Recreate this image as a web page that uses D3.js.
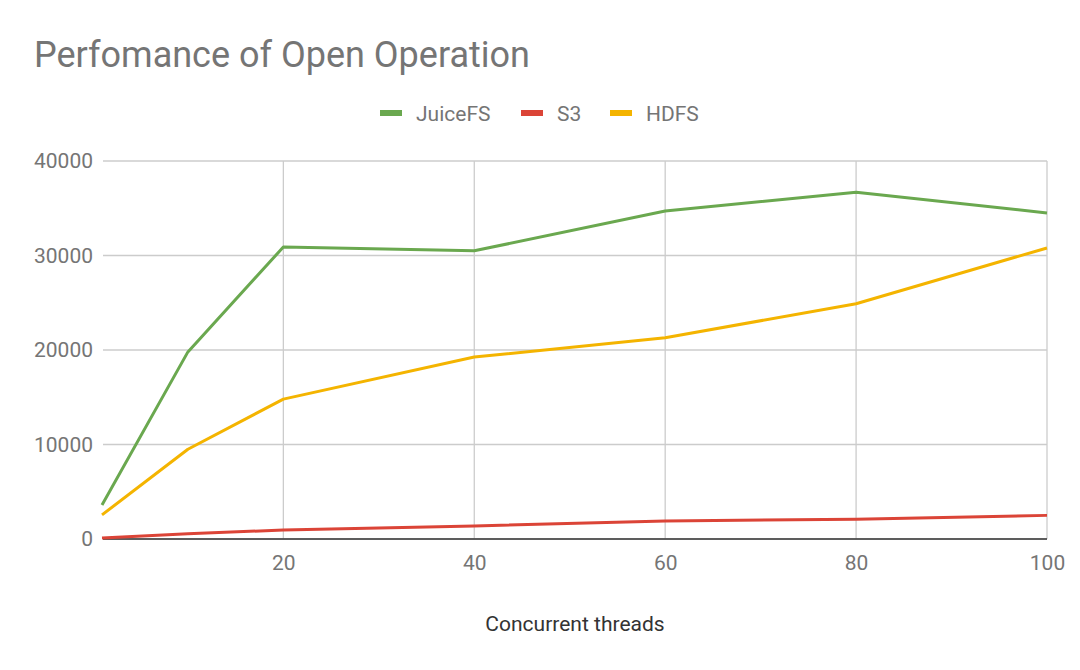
<!DOCTYPE html>
<meta charset="utf-8">
<script src="https://d3js.org/d3.v7.min.js"></script>
<style>
  body { margin: 0; background: #fff; }
  text { font-family: Roboto, "Noto Sans", sans-serif; }
</style>
<div id="chart"></div>
<script>

// data
var threads = [1, 10, 20, 40, 60, 80, 100];
var juicefs = [3600, 19800, 30900, 30500, 34700, 36700, 34500];
var s3      = [100, 550, 950, 1380, 1900, 2100, 2500];
var hdfs    = [2550, 9500, 14800, 19250, 21300, 24900, 30800];
var xTicks = [20, 40, 60, 80, 100];
var yTicks = [0, 10000, 20000, 30000, 40000];

var series = [
  {name: "JuiceFS", values: juicefs, color: "#6aa84f"},
  {name: "S3", values: s3, color: "#db4437"},
  {name: "HDFS", values: hdfs, color: "#f4b400"}
];

var W = 1080, H = 670;
var svg = d3.select("#chart").append("svg")
  .attr("width", W).attr("height", H);

var x = d3.scaleLinear().domain([1, 100]).range([102, 1047]);
var y = d3.scaleLinear().domain([0, 40000]).range([539, 161]);

// title
svg.append("text")
  .attr("x", 34).attr("y", 67)
  .attr("font-size", 36)
  .attr("fill", "#757575")
  .text("Perfomance of Open Operation");

// horizontal grid
svg.append("g")
  .selectAll("line")
  .data(yTicks)
  .enter().append("line")
    .attr("x1", 103).attr("x2", 1047)
    .attr("y1", function(d) { return y(d); })
    .attr("y2", function(d) { return y(d); })
    .attr("stroke", "#cccccc").attr("stroke-width", 1.3);

// vertical grid
svg.append("g")
  .selectAll("line")
  .data(xTicks)
  .enter().append("line")
    .attr("x1", function(d) { return x(d); })
    .attr("x2", function(d) { return x(d); })
    .attr("y1", 161).attr("y2", 539)
    .attr("stroke", "#cccccc").attr("stroke-width", 1.3);

// y axis labels
svg.append("g")
  .attr("transform", "translate(93,0)")
  .call(d3.axisLeft(y).tickValues(yTicks).tickSize(0).tickPadding(0).tickFormat(d3.format("d")))
  .call(function(g) { g.select(".domain").remove(); })
  .selectAll("text")
    .attr("font-size", 21)
    .attr("fill", "#757575")
    .attr("font-family", "Roboto, sans-serif");

// x axis labels
svg.append("g")
  .attr("transform", "translate(0,555)")
  .call(d3.axisBottom(x).tickValues(xTicks).tickSize(0).tickPadding(0))
  .call(function(g) { g.select(".domain").remove(); })
  .selectAll("text")
    .attr("font-size", 21)
    .attr("fill", "#757575")
    .attr("font-family", "Roboto, sans-serif");

// baseline
svg.append("line")
  .attr("x1", 103).attr("x2", 1047)
  .attr("y1", y(0)).attr("y2", y(0))
  .attr("stroke", "#333").attr("stroke-width", 1.3);

// lines
var line = d3.line()
  .x(function(d, i) { return x(threads[i]); })
  .y(function(d) { return y(d); });

svg.append("g")
  .selectAll("path")
  .data(series)
  .enter().append("path")
    .attr("d", function(s) { return line(s.values); })
    .attr("fill", "none")
    .attr("stroke", function(s) { return s.color; })
    .attr("stroke-width", 3)
    .attr("stroke-linejoin", "round");

// legend
var legendX = [380, 521, 610];
var lg = svg.append("g")
  .selectAll("g")
  .data(series)
  .enter().append("g")
    .attr("transform", function(d, i) { return "translate(" + legendX[i] + ",113)"; });
lg.append("rect")
  .attr("x", 0).attr("y", -3).attr("width", 22).attr("height", 6)
  .attr("fill", function(d) { return d.color; });
lg.append("text")
  .attr("x", 36).attr("y", 7.5)
  .attr("font-size", 21)
  .attr("fill", "#757575")
  .text(function(d) { return d.name; });

// x axis title
svg.append("text")
  .attr("x", 575).attr("y", 631)
  .attr("text-anchor", "middle")
  .attr("font-size", 21)
  .attr("fill", "#333")
  .text("Concurrent threads");

</script>
